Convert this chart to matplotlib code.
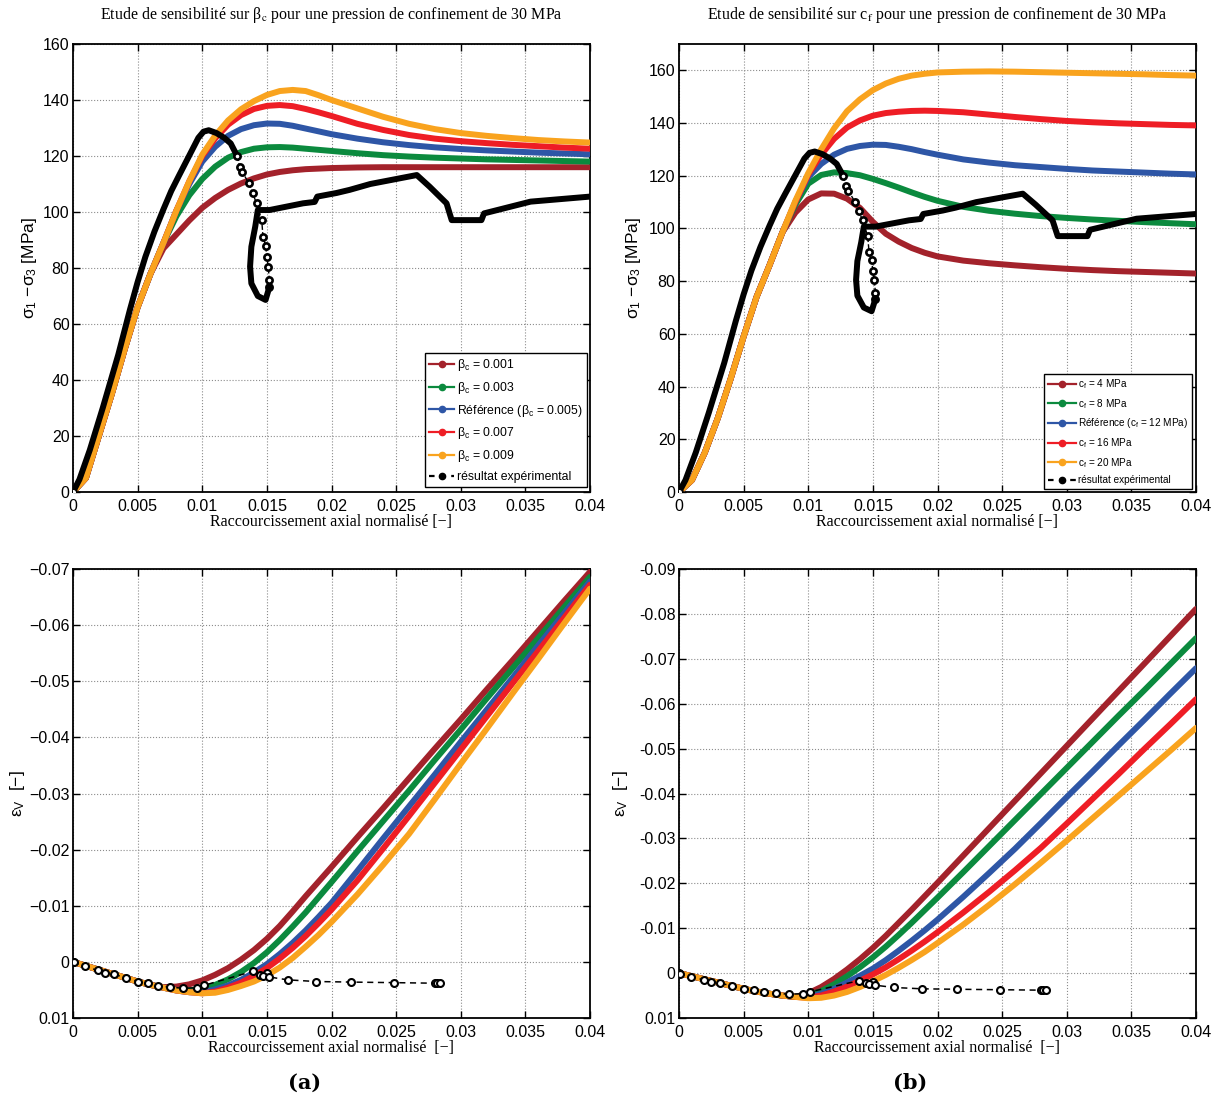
import matplotlib
matplotlib.use('Agg')
import matplotlib.pyplot as plt
from matplotlib.lines import Line2D

plt.rcParams['font.family'] = ['Liberation Sans', 'DejaVu Sans']
plt.rcParams['mathtext.fontset'] = 'custom'
plt.rcParams['mathtext.rm'] = 'Liberation Sans'
plt.rcParams['mathtext.it'] = 'Liberation Sans:italic'

# grille commune des déformations axiales (simulations)
eps = [0, .001, .002, .003, .004, .005, .006, .007, .008, .009, .010,
       .011, .012, .013, .014, .015, .016, .017, .018, .019, .020,
       .022, .024, .026, .028, .030, .032, .034, .036, .038, .040]

# deviateur [MPa] - sensibilite sur beta_c
dev_b001 = [0, 5, 20, 35, 51, 66, 78, 87, 92, 97, 101.5, 105, 107.9, 110.2, 112, 113.4,
            114.3, 114.9, 115.3, 115.5, 115.7, 115.9, 116, 116, 116, 116, 116, 116, 116, 116, 116]
dev_b003 = [0, 5, 20, 35, 51, 66, 78, 89, 98.5, 106, 111.8, 116.2, 119.4, 121.4, 122.6, 123.1,
            123.2, 123, 122.6, 122.2, 121.8, 121, 120.3, 119.8, 119.4, 119.1, 118.8, 118.6, 118.4, 118.2, 118]
dev_b005 = [0, 5, 20, 35, 51, 66, 78, 89, 100.5, 110, 118, 123.3, 127.2, 129.6, 131, 131.6,
            131.5, 130.8, 129.8, 128.8, 127.8, 126.2, 124.9, 123.9, 123.1, 122.5, 122, 121.6, 121.2, 120.9, 120.6]
dev_b007 = [0, 5, 20, 35, 51, 66, 78, 89, 100.5, 111, 120, 126.3, 131.2, 134.6, 136.8, 137.9,
            138.2, 137.8, 136.8, 135.6, 134.3, 131.5, 129.3, 127.5, 126.2, 125.3, 124.6, 124, 123.5, 123, 122.6]
dev_b009 = [0, 5, 20, 35, 51, 66, 78, 89, 100.5, 111, 120.5, 127.3, 132.7, 136.7, 139.6, 141.8,
            143.2, 143.6, 143.2, 141.7, 140, 137, 134, 131.5, 129.6, 128.2, 127.2, 126.4, 125.7, 125.2, 124.8]

# deviateur [MPa] - sensibilite sur c_f
dev_c4 = [0, 4.5, 15, 28, 43, 59, 74, 86, 98.5, 106, 111, 113.3, 113.2, 111.3, 107.8, 102.5,
          98, 95, 92.6, 90.8, 89.4, 87.8, 86.8, 86, 85.3, 84.7, 84.2, 83.8, 83.5, 83.2, 82.9]
dev_c8 = [0, 4.5, 15, 28, 43, 59, 74, 86, 98.5, 109, 117, 120.3, 121.3, 121, 120.2, 118.8,
          117.2, 115.5, 113.7, 112, 110.5, 108.2, 106.7, 105.6, 104.7, 104, 103.4, 102.9, 102.4, 102, 101.6]
dev_c12 = [0, 4.5, 15, 28, 43, 59, 74, 86, 98.5, 110, 119.5, 124.5, 128, 130.2, 131.3, 131.8,
           131.7, 131, 130.1, 129, 128, 126.2, 125, 124, 123.3, 122.6, 122, 121.6, 121.2, 120.8, 120.5]
dev_c16 = [0, 4.5, 15, 28, 43, 59, 74, 86, 98.5, 110, 120.5, 128, 134, 138.3, 141, 142.8,
           143.8, 144.3, 144.6, 144.7, 144.6, 144.1, 143.2, 142.3, 141.5, 140.8, 140.3, 139.9, 139.6, 139.3, 139.1]
dev_c20 = [0, 4.5, 15, 28, 43, 59, 74, 86, 98.5, 110.5, 121, 130, 138, 144.5, 149, 152.5,
           155, 156.8, 158, 158.7, 159.2, 159.5, 159.6, 159.5, 159.3, 159.1, 158.9, 158.7, 158.5, 158.2, 158]

# deformation volumique - sensibilite sur beta_c
epsv_b001 = [0, .0007, .0014, .0021, .0028, .0035, .0041, .0045, .0044, .0040, .0033, .0023, .0011, -.0004,
             -.0021, -.0041, -.0064, -.0090, -.0117, -.0143, -.0169, -.0222, -.0274, -.0327, -.0380, -.0432,
             -.0485, -.0537, -.0590, -.0643, -.0695]
epsv_b003 = [0, .0007, .0014, .0021, .0028, .0035, .0041, .0046, .0050, .0051, .0048, .0041, .0031, .0018,
             .0002, -.0017, -.0039, -.0063, -.0088, -.0115, -.0142, -.0197, -.0251, -.0305, -.0360, -.0414,
             -.0469, -.0523, -.0577, -.0632, -.0686]
epsv_b005 = [0, .0007, .0014, .0021, .0028, .0035, .0041, .0046, .0051, .0054, .0054, .0049, .0042, .0032,
             .0019, .0004, -.0014, -.0034, -.0056, -.0080, -.0105, -.0162, -.0220, -.0277, -.0334, -.0392,
             -.0449, -.0506, -.0564, -.0621, -.0678]
epsv_b007 = [0, .0007, .0014, .0021, .0028, .0035, .0041, .0046, .0051, .0054, .0056, .0053, .0046, .0037,
             .0025, .0011, -.0006, -.0025, -.0046, -.0069, -.0093, -.0145, -.0202, -.0260, -.0319, -.0378,
             -.0437, -.0496, -.0554, -.0613, -.0672]
epsv_b009 = [0, .0007, .0014, .0021, .0028, .0035, .0041, .0046, .0051, .0054, .0056, .0055, .0050, .0043,
             .0035, .0024, .0010, -.0007, -.0027, -.0048, -.0071, -.0120, -.0173, -.0228, -.0290, -.0353,
             -.0415, -.0478, -.0540, -.0603, -.0665]

# deformation volumique - sensibilite sur c_f
epsv_c4 = [0, .0007, .0014, .0021, .0028, .0035, .0041, .0046, .0050, .0053, .0045, .0031, .0013, -.0008,
           -.0031, -.0056, -.0083, -.0112, -.0141, -.0171, -.0201, -.0262, -.0323, -.0384, -.0445, -.0506,
           -.0567, -.0628, -.0689, -.0750, -.0811]
epsv_c8 = [0, .0007, .0014, .0021, .0028, .0035, .0041, .0046, .0050, .0053, .0050, .0040, .0025, .0007,
           -.0013, -.0035, -.0059, -.0085, -.0112, -.0140, -.0168, -.0225, -.0283, -.0341, -.0399, -.0457,
           -.0515, -.0573, -.0630, -.0688, -.0746]
epsv_c12 = [0, .0007, .0014, .0021, .0028, .0035, .0041, .0046, .0050, .0053, .0053, .0046, .0035, .0021,
            .0006, -.0010, -.0029, -.0050, -.0072, -.0095, -.0119, -.0170, -.0223, -.0277, -.0334, -.0392,
            -.0449, -.0507, -.0564, -.0622, -.0679]
epsv_c16 = [0, .0007, .0014, .0021, .0028, .0035, .0041, .0046, .0050, .0053, .0055, .0050, .0041, .0030,
            .0017, .0003, -.0013, -.0031, -.0050, -.0070, -.0091, -.0135, -.0181, -.0229, -.0279, -.0333,
            -.0388, -.0443, -.0499, -.0554, -.0610]
epsv_c20 = [0, .0007, .0014, .0021, .0028, .0035, .0041, .0046, .0050, .0053, .0056, .0055, .0050, .0042,
            .0031, .0018, .0004, -.0012, -.0029, -.0047, -.0067, -.0108, -.0152, -.0198, -.0246, -.0295,
            -.0345, -.0395, -.0445, -.0495, -.0546]

# essai : montee jusqu'au pic (acquisition dense)
exp_eps_montee = [0, .0005, .0013, .0023, .0035, .0044, .0050, .0056, .0063, .0070, .0076, .0082,
                  .0087, .0092, .0097, .0101, .0105, .0111, .0117, .0122, .0127]
exp_dev_montee = [0, 4.5, 15, 30, 49, 65, 75, 84, 93, 101, 107.5, 113,
                  117.5, 122, 126.5, 128.7, 129.2, 128.2, 126.5, 124.5, 120]
# essai : chute brutale (points espaces)
exp_eps_chute = [.0127, .0129, .0131, .0136, .0139, .0142, .0146, .0147, .0149, .0150, .0151, .0152, .0152]
exp_dev_chute = [120, 116.2, 114.4, 110.2, 106.7, 103.1, 97.1, 91.2, 88, 84, 80.5, 75.7, 73.3]
# essai : boucle puis palier residuel
exp_eps_boucle = [.0152, .0149, .0143, .0138, .0137, .0138, .0141, .0143, .0152, .0165, .0178, .0187,
                  .0189, .0204, .0214, .0230, .0266, .0276, .0289, .0293, .0316, .0318, .0354, .0400]
exp_dev_boucle = [73.3, 68.6, 70, 74.5, 80.5, 87.6, 94.8, 100.7, 100.7, 101.9, 103.1, 103.6,
                  105.5, 106.8, 107.9, 110, 113.2, 109, 103.1, 97.1, 97.1, 99.5, 103.7, 105.5]
# essai : deformation volumique
exp_eps_vol = [0, .0001, .0009, .0019, .0025, .0032, .0041, .0050, .0058, .0066, .0075, .0085, .0096,
               .0101, .0139, .0145, .0150, .0147, .0152, .0166, .0188, .0215, .0248, .0280, .0282, .0284]
exp_epsv = [0, .0001, .0008, .0015, .0019, .0022, .0029, .0035, .0038, .0043, .0045, .0047, .0046,
            .0042, .0017, .0023, .0020, .0025, .0027, .0032, .0035, .0036, .0037, .0038, .0038, .0038]

couleurs = ['#A3222B', '#0B8A3E', '#2E56A6', '#EE1D25', '#F9A31E']
lab_beta = ['β$_\\mathrm{c}$ = 0.001', 'β$_\\mathrm{c}$ = 0.003', 'Référence (β$_\\mathrm{c}$ = 0.005)',
            'β$_\\mathrm{c}$ = 0.007', 'β$_\\mathrm{c}$ = 0.009', 'résultat expérimental']
lab_cf = ['c$_\\mathrm{f}$ = 4 MPa', 'c$_\\mathrm{f}$ = 8 MPa', 'Référence (c$_\\mathrm{f}$ = 12 MPa)',
          'c$_\\mathrm{f}$ = 16 MPa', 'c$_\\mathrm{f}$ = 20 MPa', 'résultat expérimental']

xticks = [0, .005, .01, .015, .02, .025, .03, .035, .04]
xtick_labels = ['0', '0.005', '0.01', '0.015', '0.02', '0.025', '0.03', '0.035', '0.04']
dev_ticks = [0, 20, 40, 60, 80, 100, 120, 140, 160]
vol_ticks_a = [-.07, -.06, -.05, -.04, -.03, -.02, -.01, 0, .01]
vol_labels_a = ['−0.07', '−0.06', '−0.05', '−0.04', '−0.03', '−0.02', '−0.01', '0', '0.01']
vol_ticks_b = [-.09, -.08, -.07, -.06, -.05, -.04, -.03, -.02, -.01, 0, .01]
vol_labels_b = ['-0.09', '-0.08', '-0.07', '-0.06', '-0.05', '-0.04', '-0.03', '-0.02', '-0.01', '0', '0.01']

serif = 'Liberation Serif'

fig = plt.figure(figsize=(12.19, 11.01), dpi=100)
W, H = 1219, 1101
def cadre(x0, y0, x1, y1):
    return fig.add_axes([x0 / W, 1 - y1 / H, (x1 - x0) / W, (y1 - y0) / H])

ax1 = cadre(73, 44, 590, 492)
ax2 = cadre(679, 44, 1196, 492)
ax3 = cadre(73, 569, 590, 1018)
ax4 = cadre(679, 569, 1196, 1018)

def habillage(ax):
    ax.set_xlim(0, 0.04)
    ax.set_xticks(xticks)
    ax.set_xticklabels(xtick_labels)
    ax.grid(True, ls=':', color='0.55', lw=0.8)
    ax.tick_params(direction='in', top=True, right=True, length=5, width=1, labelsize=11.5, pad=2.5)
    ax.tick_params(axis='x', pad=5)
    for s in ax.spines.values():
        s.set_linewidth(1.3)

def courbes(ax, series):
    for y, c in zip(series, couleurs):
        ax.plot(eps, y, color=c, lw=4.3, solid_capstyle='round', solid_joinstyle='round', zorder=3)

def essai_deviateur(ax):
    ax.plot(exp_eps_montee, exp_dev_montee, color='k', lw=4.3, solid_capstyle='round',
            solid_joinstyle='round', zorder=4)
    ax.plot(exp_eps_chute, exp_dev_chute, color='k', ls='--', lw=1, marker='o', ms=4.5,
            mfc='white', mec='k', mew=1.9, zorder=4)
    ax.plot(exp_eps_boucle, exp_dev_boucle, color='k', lw=4.3, solid_capstyle='round',
            solid_joinstyle='round', zorder=4)
    ax.plot([0], [0], color='k', marker='o', ms=5, mfc='white', mew=1.4, zorder=5)

def legende(ax, labels, fs, hl, sp, anchor):
    poignees = [Line2D([], [], color=c, lw=1.6, marker='o', ms=4.5) for c in couleurs]
    poignees.append(Line2D([], [], color='k', ls='--', lw=1.6, marker='o', ms=4.5,
                           mfc='k', dashes=(2.5, 2.5)))
    ax.legend(poignees, labels, loc='lower right', bbox_to_anchor=anchor, fontsize=fs,
              handlelength=hl, labelspacing=sp, fancybox=False, framealpha=1,
              edgecolor='k', borderpad=0.35, handletextpad=0.25, borderaxespad=0)

# (a) haut : deviateur, beta_c
courbes(ax1, [dev_b001, dev_b003, dev_b005, dev_b007, dev_b009])
essai_deviateur(ax1)
habillage(ax1)
ax1.set_ylim(0, 160)
ax1.set_yticks(dev_ticks)
legende(ax1, lab_beta, 8.8, 2.0, 0.55, (0.994, 0.011))

# (b) haut : deviateur, c_f
courbes(ax2, [dev_c4, dev_c8, dev_c12, dev_c16, dev_c20])
essai_deviateur(ax2)
habillage(ax2)
ax2.set_ylim(0, 170)
ax2.set_yticks(dev_ticks)
legende(ax2, lab_cf, 7.2, 2.8, 0.58, (0.992, 0.007))

# (a) bas : deformation volumique, beta_c
courbes(ax3, [epsv_b001, epsv_b003, epsv_b005, epsv_b007, epsv_b009])
# (b) bas : deformation volumique, c_f
courbes(ax4, [epsv_c4, epsv_c8, epsv_c12, epsv_c16, epsv_c20])
for ax, tk, tl, lim in [(ax3, vol_ticks_a, vol_labels_a, (0.01, -0.07)),
                        (ax4, vol_ticks_b, vol_labels_b, (0.01, -0.09))]:
    ax.plot(exp_eps_vol, exp_epsv, color='k', ls='--', lw=1.1, dashes=(4, 3), marker='o', ms=5,
            mfc='white', mec='k', mew=1.5, zorder=4)
    habillage(ax)
    ax.set_yticks(tk)
    ax.set_yticklabels(tl)
    ax.set_ylim(*lim)

titre = 'Etude de sensibilité sur {} pour une pression de confinement de 30 MPa'
ax1.text(0.5, 1.065, titre.format('β$_{\\mathrm{c}}$'), transform=ax1.transAxes, ha='center',
         va='center', family=serif, fontsize=11.5, math_fontfamily='stix')
ax2.text(0.5, 1.065, titre.format('c$_{\\mathrm{f}}$'), transform=ax2.transAxes, ha='center',
         va='center', family=serif, fontsize=11.5, math_fontfamily='stix')

for ax in (ax1, ax2):
    ax.set_xlabel('Raccourcissement axial normalisé [−]', family=serif, fontsize=11.5)
    ax.xaxis.set_label_coords(0.5, -0.05)
    ax.set_ylabel('σ$_1$ −σ$_3$ [MPa]', fontsize=12.5)
ax1.yaxis.set_label_coords(-0.066, 0.5)
ax2.yaxis.set_label_coords(-0.070, 0.5)
for ax in (ax3, ax4):
    ax.set_xlabel('Raccourcissement axial normalisé  [−]', family=serif, fontsize=11.5)
    ax.xaxis.set_label_coords(0.5, -0.049)
    ax.set_ylabel('ε$_\\mathrm{V}$  [−]', fontsize=12.5)
ax3.yaxis.set_label_coords(-0.089, 0.5)
ax4.yaxis.set_label_coords(-0.095, 0.5)

fig.text(305 / W, 1 - 1083 / H, '(a)', ha='center', va='center', family='DejaVu Serif',
         fontweight='bold', fontsize=15)
fig.text(910 / W, 1 - 1083 / H, '(b)', ha='center', va='center', family='DejaVu Serif',
         fontweight='bold', fontsize=15)

fig.savefig('out.png', dpi=100)
